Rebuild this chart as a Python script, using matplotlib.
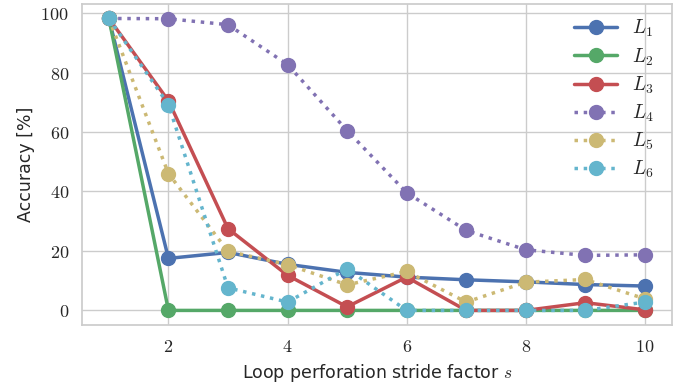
import numpy as np
import matplotlib.pyplot as plt
import seaborn as sns

# Accuracy vs. stride factor for each perforated loop
strides = [1, 2, 3, 4, 5, 6, 7, 8, 9, 10]
acc_L1 = [98.2, 17.5, 19.5, 15.5, 12.8, 11.2, 10.3, 9.6, 8.7, 8.2]
acc_L2 = [98.2, 0, 0, 0, 0, 0, 0, 0, 0, 0]
acc_L3 = [98.2, 70.5, 27.5, 11.8, 1.2, 11.2, 0, 0, 2.6, 0.2]
acc_L4 = [98.2, 98.1, 96.1, 82.7, 60.5, 39.6, 26.9, 20.4, 18.5, 18.7]
acc_L5 = [98.2, 46.0, 19.9, 15.4, 8.6, 13.1, 2.8, 9.5, 10.4, 3.9]
acc_L6 = [98.2, 69.2, 7.6, 2.8, 14.0, 0, 0, 0, 0, 2.8]

labels = [r'$L_1$', r'$L_2$', r'$L_3$', r'$L_4$', r'$L_5$', r'$L_6$']
series = [acc_L1, acc_L2, acc_L3, acc_L4, acc_L5, acc_L6]
styles = ['-', '-', '-', ':', ':', ':']

sns.set_theme(style='whitegrid', palette='deep')
plt.rcParams['font.family'] = ['DejaVu Sans']
plt.rcParams['mathtext.fontset'] = 'cm'

colors = sns.color_palette('deep')
order = [0, 2, 3, 4, 8, 9]

fig, ax = plt.subplots(figsize=(6.73, 3.86), dpi=100)
fig.subplots_adjust(left=0.122, right=0.998, top=0.99, bottom=0.158)

for vals, lab, ls, ci in zip(series, labels, styles, order):
    ax.plot(strides, vals, ls, color=colors[ci], lw=2.5, marker='o',
            markersize=10, label=lab)

ax.set_xticks([2, 4, 6, 8, 10])
ax.set_yticks([0, 20, 40, 60, 80, 100])
ax.xaxis.set_major_formatter(plt.FuncFormatter(lambda v, p: f'${v:g}$'))
ax.yaxis.set_major_formatter(plt.FuncFormatter(lambda v, p: f'${v:g}$'))
ax.tick_params(labelsize=13)
ax.set_xlabel('Loop perforation stride factor $s$', fontsize=12.5)
ax.set_ylabel('Accuracy [%]', fontsize=12.5)

leg = ax.legend(loc='upper right', frameon=False, fontsize=14,
                handlelength=2.2, labelspacing=0.35,
                bbox_to_anchor=(1.0, 1.01))

plt.savefig('out.png', dpi=100)
